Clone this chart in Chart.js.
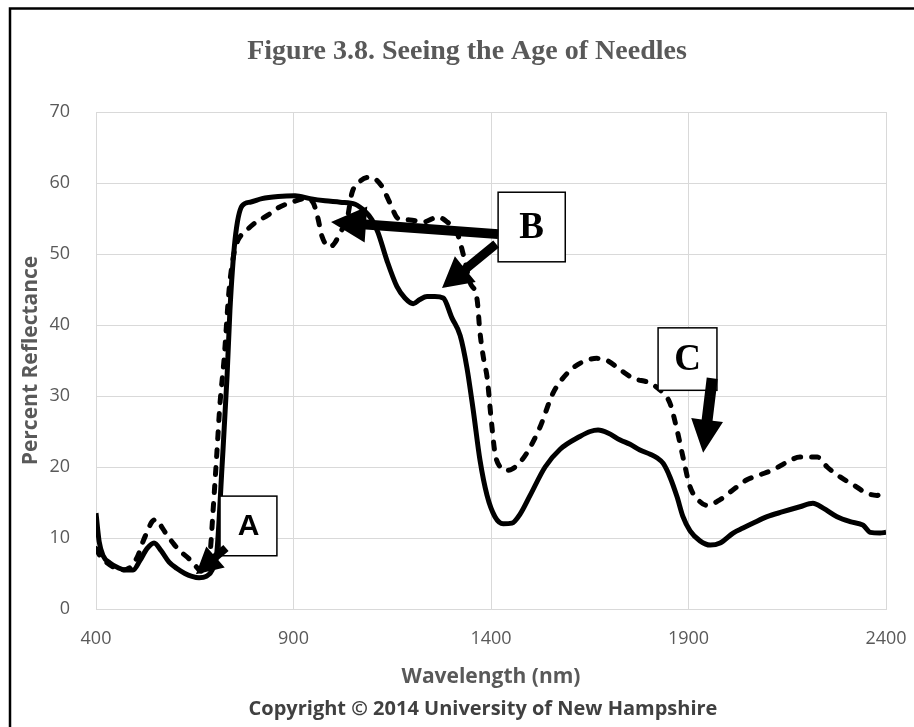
<!DOCTYPE html>
<html>
<head>
<meta charset="utf-8">
<script src="https://cdn.jsdelivr.net/npm/chart.js@4.4.1/dist/chart.umd.min.js"></script>
<style>
  html, body { margin: 0; padding: 0; background: #fff; }
  #wrap { width: 914px; height: 727px; }
</style>
</head>
<body>
<div id="wrap"><canvas id="chart" width="914" height="727"></canvas></div>
<script>
const chartTitle = "Figure 3.8. Seeing the Age of Needles";
const xTitle = "Wavelength (nm)";
const yTitle = "Percent Reflectance";
const copyright = "Copyright © 2014 University of New Hampshire";
const xTicks = [400, 900, 1400, 1900, 2400];
const yTicks = [0, 10, 20, 30, 40, 50, 60, 70];

// solid spectrum
const solidWl = [400,408,418,435,456,473,494,511,529,547,565,585,605,625,643,661,679,694,706,719,732,739,752,770,790,820,861,904,942,980,1018,1056,1081,1099,1114,1137,1162,1182,1203,1220,1238,1258,1279,1301,1322,1339,1355,1372,1390,1410,1431,1453,1474,1499,1537,1575,1625,1651,1671,1696,1727,1752,1777,1803,1820,1836,1853,1871,1886,1904,1929,1955,1980,2013,2038,2064,2099,2139,2182,2215,2241,2276,2309,2342,2360,2385,2400];
const solidVal = [13.5,9.5,7.5,6.5,5.8,5.5,5.5,6.8,8.5,9.3,8.2,6.6,5.7,5.0,4.6,4.4,4.6,5.5,8,20,33,42,52,56.8,57.3,57.8,58.1,58.2,57.8,57.5,57.3,57,56,54.8,53,49,45.4,43.8,43,43.6,44,44,43.8,41,38.5,34,28,21,16,13,12,12.1,13.4,16,20,22.5,24.3,25,25.2,24.8,23.8,23.2,22.4,21.8,21.3,20.5,18.6,15.8,13,11,9.6,9,9.3,10.7,11.4,12.1,13,13.7,14.4,14.9,14.2,13,12.3,11.8,10.8,10.7,10.8];

// dashed spectrum
const dashedWl = [400,410,428,448,468,489,506,519,529,542,554,567,580,595,610,635,653,666,679,689,696,706,714,724,737,749,760,777,803,836,861,896,929,949,962,972,992,1005,1018,1036,1048,1068,1089,1106,1124,1144,1165,1195,1228,1266,1289,1314,1334,1347,1365,1372,1382,1390,1400,1410,1423,1436,1453,1474,1491,1524,1557,1593,1625,1668,1694,1727,1760,1803,1836,1853,1871,1886,1904,1924,1947,1980,2013,2048,2081,2114,2150,2182,2226,2251,2284,2317,2352,2377,2400];
const dashedVal = [8.5,7.5,6.5,5.8,5.5,6,7.5,9.5,10.8,12.3,12.6,11.5,10.4,9.3,8.3,7.1,6.0,5.3,5.6,8,13.5,22,29,35,45,50,52,53.1,54.4,55.5,56.5,57.3,57.8,57.3,55,52.5,51,51.6,53,55,58.6,60.2,60.8,60.6,59.5,57.2,55,54.8,54.5,55.2,54.5,53,49,46,43.5,39,35,32.7,27,22,20,19.5,19.7,20.7,22,25.6,30.4,33.2,34.6,35.3,35,33.7,32.5,31.8,30.4,29,25.2,21.4,17.2,15.4,14.6,15.4,16.8,18.2,18.9,19.6,20.7,21.4,21.4,20,18.6,17.5,16.3,16,16.8];

// callout boxes, anchored in data units
const boxLabels = ["A", "B", "C"];
const boxWl = [[714, 858], [1418, 1588], [1823, 1972]];
const boxVal = [[15.9, 7.5], [58.7, 48.9], [39.6, 30.8]];
const arrowFrom = [[729, 8.6], [1418, 52.8], [1413, 51.4], [1960, 32.5]];
const arrowTo = [[653, 4.9], [995, 54.5], [1276, 45.2], [1937, 22.0]];

const arrowShaft = [8, 10, 9, 11];
const arrowHeadLen = [26, 35, 30, 33];
const arrowHeadW = [28, 36, 33, 32];
const boxFonts = ['bold 30px "Liberation Sans"', 'bold 37px "Liberation Serif"', 'bold 37px "Liberation Serif"'];

function drawArrow(ctx, x1, y1, x2, y2, shaft, headLen, headW) {
  const a = Math.atan2(y2 - y1, x2 - x1);
  const len = Math.hypot(x2 - x1, y2 - y1);
  ctx.save();
  ctx.translate(x1, y1);
  ctx.rotate(a);
  ctx.beginPath();
  ctx.moveTo(0, -shaft / 2);
  ctx.lineTo(len - headLen, -shaft / 2);
  ctx.lineTo(len - headLen, -headW / 2);
  ctx.lineTo(len, 0);
  ctx.lineTo(len - headLen, headW / 2);
  ctx.lineTo(len - headLen, shaft / 2);
  ctx.lineTo(0, shaft / 2);
  ctx.closePath();
  ctx.fillStyle = "#000";
  ctx.fill();
  ctx.restore();
}

const callouts = {
  id: "callouts",
  afterDatasetsDraw(chart) {
    const { ctx, scales: { x, y } } = chart;
    ctx.save();
    boxLabels.forEach((lab, i) => {
      const x0 = x.getPixelForValue(boxWl[i][0]);
      const x1 = x.getPixelForValue(boxWl[i][1]);
      const y0 = y.getPixelForValue(boxVal[i][0]);
      const y1 = y.getPixelForValue(boxVal[i][1]);
      ctx.fillStyle = "#fff";
      ctx.fillRect(x0, y0, x1 - x0, y1 - y0);
      ctx.lineWidth = 1.5;
      ctx.strokeStyle = "#000";
      ctx.strokeRect(x0, y0, x1 - x0, y1 - y0);
      ctx.fillStyle = "#000";
      ctx.font = boxFonts[i];
      ctx.textAlign = "center";
      ctx.textBaseline = "middle";
      ctx.fillText(lab, (x0 + x1) / 2, (y0 + y1) / 2 + 1);
    });
    arrowFrom.forEach((p, i) => {
      drawArrow(ctx,
        x.getPixelForValue(p[0]), y.getPixelForValue(p[1]),
        x.getPixelForValue(arrowTo[i][0]), y.getPixelForValue(arrowTo[i][1]),
        arrowShaft[i], arrowHeadLen[i], arrowHeadW[i]);
    });
    ctx.restore();
  }
};

const frame = {
  id: "frame",
  beforeDraw(chart) {
    const ctx = chart.ctx;
    ctx.save();
    ctx.fillStyle = "#fff";
    ctx.fillRect(0, 0, chart.width, chart.height);
    ctx.restore();
  },
  afterDraw(chart) {
    const ctx = chart.ctx;
    ctx.save();
    ctx.strokeStyle = "#000";
    ctx.lineWidth = 2.5;
    ctx.strokeRect(10, 8.5, chart.width + 20, chart.height + 20);
    ctx.fillStyle = "#595959";
    ctx.font = 'bold 28px "Liberation Serif"';
    ctx.textAlign = "center";
    ctx.textBaseline = "middle";
    ctx.fillText(chartTitle, 467, 52);
    ctx.fillStyle = "#404040";
    ctx.font = 'bold 20px "Open Sans"';
    ctx.fillText(copyright, 483, 709);
    ctx.restore();
  }
};

const ctx = document.getElementById("chart").getContext("2d");
new Chart(ctx, {
  type: "line",
  data: {
    datasets: [
      {
        label: "solid",
        data: solidWl.map((w, i) => ({ x: w, y: solidVal[i] })),
        borderColor: "#000",
        borderWidth: 5,
        pointRadius: 0,
        cubicInterpolationMode: "monotone",
        borderJoinStyle: "round",
        fill: false
      },
      {
        label: "dashed",
        data: dashedWl.map((w, i) => ({ x: w, y: dashedVal[i] })),
        borderColor: "#000",
        borderWidth: 5,
        borderDash: [7, 11],
        borderCapStyle: "round",
        pointRadius: 0,
        cubicInterpolationMode: "monotone",
        fill: false
      }
    ]
  },
  options: {
    responsive: false,
    animation: false,
    devicePixelRatio: 1,
    layout: { padding: { top: 112, right: 28, bottom: 0, left: 0 } },
    plugins: {
      legend: { display: false },
      tooltip: { enabled: false }
    },
    scales: {
      x: {
        type: "linear",
        min: 400,
        max: 2400,
        afterBuildTicks: s => { s.ticks = xTicks.map(v => ({ value: v })); },
        afterFit: s => { s.height = 118; },
        grid: { color: "#d9d9d9", lineWidth: 1, drawTicks: true, tickLength: 19, tickColor: "rgba(0,0,0,0)" },
        border: { color: "#d9d9d9" },
        ticks: {
          color: "#595959", font: { family: "Open Sans", size: 18 }, padding: 0, maxRotation: 0,
          callback: v => String(v)
        },
        title: {
          display: true, text: xTitle, color: "#595959",
          font: { family: "Open Sans", size: 21, weight: "bold" },
          padding: { top: 0, bottom: 37 }
        }
      },
      y: {
        min: 0,
        max: 70,
        afterBuildTicks: s => { s.ticks = yTicks.map(v => ({ value: v })); },
        afterFit: s => { s.width = 96; },
        grid: { color: "#d9d9d9", lineWidth: 1, drawTicks: false },
        border: { color: "#d9d9d9" },
        ticks: { color: "#595959", font: { family: "Open Sans", size: 18 }, padding: 26, callback: v => String(v) },
        title: {
          display: true, text: yTitle, color: "#595959",
          font: { family: "Open Sans", size: 21, weight: "bold" },
          padding: { top: 18, bottom: 0 }
        }
      }
    }
  },
  plugins: [frame, callouts]
});
</script>
</body>
</html>
